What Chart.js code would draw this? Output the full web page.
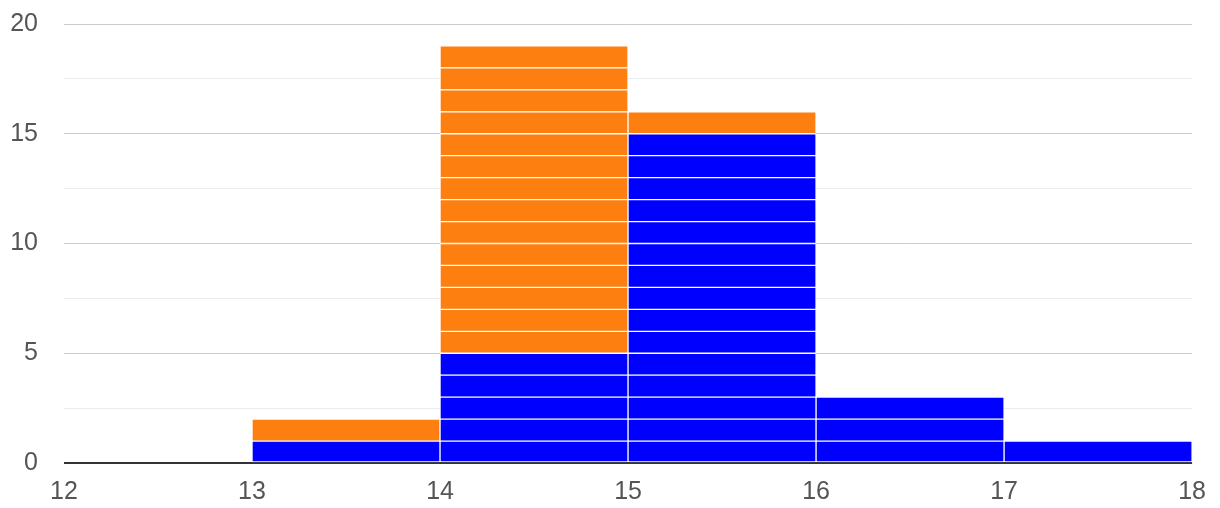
<!DOCTYPE html>
<html>
<head>
<meta charset="utf-8">
<script src="https://cdn.jsdelivr.net/npm/chart.js@4.4.1/dist/chart.umd.min.js"></script>
<style>
  html, body { margin: 0; padding: 0; background: #fff; }
  #wrap { width: 1220px; height: 508px; }
</style>
</head>
<body>
<div id="wrap"><canvas id="histChart" width="1220" height="508"></canvas></div>
<script>
// histogram bins (left edge of each bin, width 1)
const binStarts = [12, 13, 14, 15, 16, 17];
const blueCounts = [0, 1, 5, 15, 3, 1];
const orangeCounts = [0, 1, 14, 1, 0, 0];
const yTicks = [0, 5, 10, 15, 20];
const xTicks = [12, 13, 14, 15, 16, 17, 18];

const BLUE = '#0000ff';
const ORANGE = '#fd7f0f';

// one dataset per unit level so every item gets its own block
function unitDatasets(counts, color, prefix) {
    const maxCount = Math.max(...counts);
    const sets = [];
    for (let k = 0; k < maxCount; k++) {
        sets.push({
            label: prefix + ' ' + (k + 1),
            data: binStarts.map((x, i) => ({ x: x + 0.5, y: counts[i] > k ? 1 : null })),
            backgroundColor: color,
            borderColor: '#ffffff',
            borderWidth: 1,
            borderSkipped: false,
            barPercentage: 1,
            categoryPercentage: 1,
            stack: 'all'
        });
    }
    return sets;
}

const datasets = unitDatasets(blueCounts, BLUE, 'blue').concat(unitDatasets(orangeCounts, ORANGE, 'orange'));

const ctx = document.getElementById('histChart').getContext('2d');
window.histChart = new Chart(ctx, {
    type: 'bar',
    data: { datasets: datasets },
    options: {
        responsive: false,
        animation: false,
        layout: { padding: { left: 0, right: 27, top: 24, bottom: 0 } },
        plugins: { legend: { display: false }, tooltip: { enabled: false } },
        scales: {
            x: {
                type: 'linear',
                min: 12,
                max: 18,
                offset: false,
                stacked: true,
                grid: { display: false, drawTicks: false, offset: false },
                border: { display: false },
                afterFit: (s) => { s.height = 45; },
                afterBuildTicks: (s) => { s.ticks = xTicks.map(v => ({ value: v })); },
                ticks: {
                    padding: 14,
                    color: '#555',
                    font: { family: 'Liberation Sans, Arial, sans-serif', size: 25 },
                    callback: (v) => String(v)
                }
            },
            y: {
                min: 0,
                max: 20,
                stacked: true,
                afterFit: (s) => { s.width = 64; s.paddingTop = 0; s.paddingBottom = 0; },
                ticks: {
                    stepSize: 2.5,
                    padding: 26,
                    color: '#555',
                    font: { family: 'Liberation Sans, Arial, sans-serif', size: 25 },
                    callback: (v) => yTicks.includes(v) ? String(v) : ''
                },
                border: { display: false },
                grid: {
                    drawTicks: false,
                    lineWidth: (c) => c.tick && c.tick.value === 0 ? 2 : 1,
                    color: (c) => {
                        const v = c.tick ? c.tick.value : null;
                        if (v === 0) return '#333333';
                        if (yTicks.includes(v)) return '#cccccc';
                        return '#ebebeb';
                    }
                }
            }
        }
    }
});
</script>
</body>
</html>
